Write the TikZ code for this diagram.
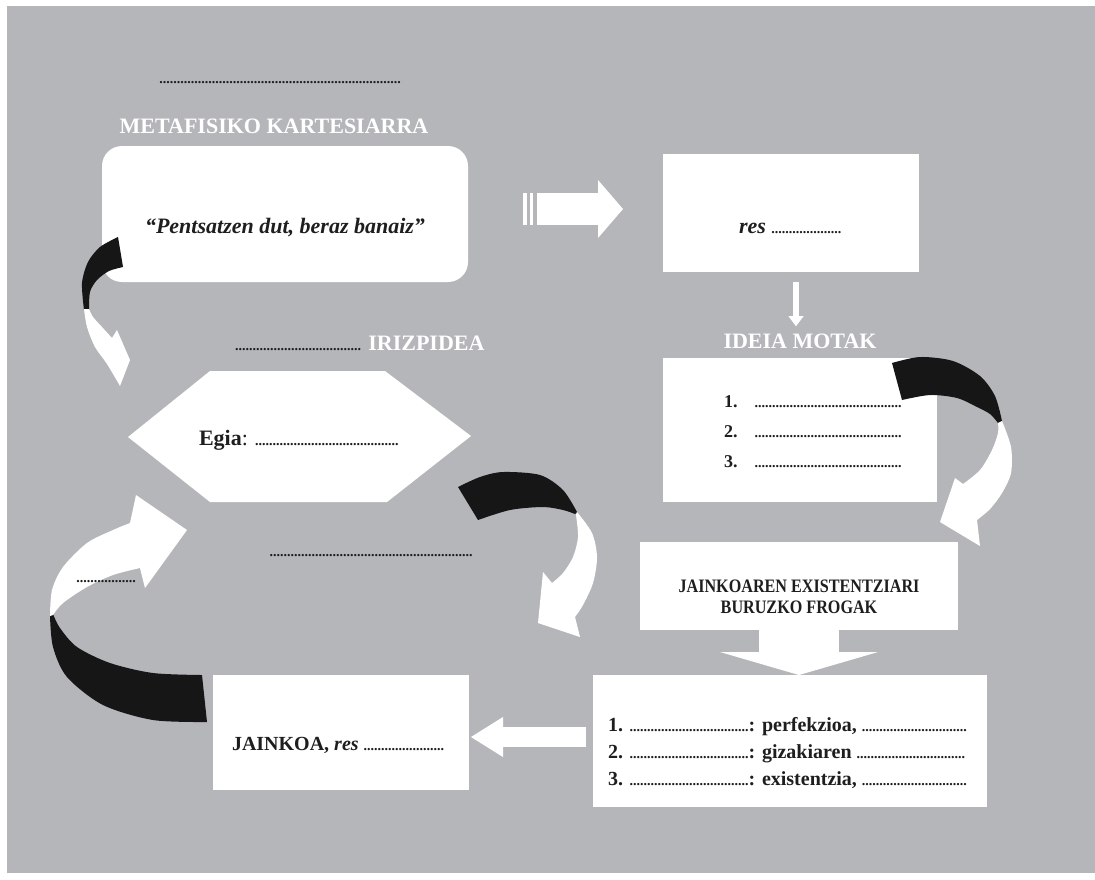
\documentclass[tikz,border=0pt]{standalone}
\usepackage{fontspec}
\setmainfont{Liberation Serif}
\newfontfamily\narrowfont[FakeStretch=0.85]{Liberation Serif}
\usepackage{tikz}
\usetikzlibrary{arrows.meta,calc,positioning}
\definecolor{panel}{RGB}{181,182,186}
\definecolor{ink}{RGB}{30,30,30}
\definecolor{ribbonink}{RGB}{22,22,22}
\newcommand{\dl}[1]{{\fontsize{7}{8}\selectfont\bfseries\upshape#1}}
\tikzset{
	scheme/.style={
		x=0.5pt, y=-0.5pt,
		every node/.style={inner sep=0pt, outer sep=0pt, text=ink}},
	card/.style={fill=white},
	tag/.style={font=\bfseries\fontsize{11}{13}\selectfont},
	caption/.style={tag, text=white},
	ribbon/.style={fill=white},
	ribbon back/.style={fill=ribbonink},
	fat/.style n args={3}{draw=white, line width=#1,
		-{Triangle[length=#2, width=#3, line width=0pt]}}
}

\begin{document}
\begin{tikzpicture}[scheme]
   \path[use as bounding box, fill=white] (0,0) rectangle (1095,879);
   \fill[panel] (7,6) rectangle (1095,873);
   \node[card, rounded corners=10pt, minimum width=183pt, minimum height=68pt] (cog) at (285,214) {};
   \node[card, minimum width=128pt, minimum height=59pt] (res) at (791,213) {};
   \node[card, minimum width=137pt, minimum height=72pt] (ideia) at (800,430) {};
   \node[card, minimum width=159pt, minimum height=44pt] (froga) at (799,586) {};
   \node[card, minimum width=197pt, minimum height=66pt] (proba) at (790,741) {};
   \node[card, minimum width=128pt, minimum height=57.5pt] (jainko) at (341,732.5) {};
   \fill[white] (128,437) -- (210,371) -- (385,371) -- (471,436) -- (387,502) -- (210,502) -- cycle;
   % texts
   \node[caption, above=6.3pt of cog, xshift=-5.5pt] (meta) {METAFISIKO KARTESIARRA};
   \node[above=17.3pt of meta, xshift=3pt] (metadots) {\dl{.....................................................................}};
   \node[font=\bfseries\itshape\fontsize{11}{13}\selectfont] (cogtxt) at ([yshift=-7pt]cog.center) {“Pentsatzen dut, beraz banaiz”};
   \node[tag, anchor=west] (restxt) at (739,228) {\textit{res} \dl{....................}};
   \node[caption, above=4.5pt of ideia] (motak) {IDEIA MOTAK};
   \node[anchor=west, align=left, font=\bfseries\fontsize{9}{15}\selectfont] (motalist) at (724,432)
      {1.\hspace{8.5pt}\dl{..........................................}\\
       2.\hspace{8.5pt}\dl{..........................................}\\
       3.\hspace{8.5pt}\dl{..........................................}};
   \node[tag, anchor=west] (irizpide) at (235,343) {\dl{....................................} \textcolor{white}{IRIZPIDEA}};
   \node[tag, anchor=west] (egia) at (199,440) {Egia\mdseries: \dl{.........................................}};
   \node (middots) at (371,556) {\dl{..........................................................}};
   \node[font=\narrowfont\bfseries\fontsize{9.5}{10.5}\selectfont, align=center] (frogatxt) at ([yshift=-5.5pt]froga.center)
      {JAINKOAREN EXISTENTZIARI\\BURUZKO FROGAK};
   \node[anchor=west, align=left, font=\bfseries\fontsize{10}{13.5}\selectfont] (probatxt) at (608,753)
      {1. \dl{..................................}: perfekzioa, \dl{..............................}\\
       2. \dl{..................................}: gizakiaren \dl{...............................}\\
       3. \dl{..................................}: existentzia, \dl{..............................}};
   \node[anchor=west, font=\bfseries\fontsize{10}{12}\selectfont] (jainkotxt) at (232,745)
      {JAINKOA, \textit{res} \dl{.......................}};
   % straight arrows
   \draw[fat={16pt}{12.5pt}{29pt}] ($(cog.east)+(69,-5)$) -- ($(res.west)+(-40,-4)$);
   \foreach \s in {56.75,63.25}
      \draw[white, line width=1.75pt] ($(cog.east)+(\s,-21)$) -- ($(cog.east)+(\s,11)$);
   \draw[fat={3pt}{5pt}{7.5pt}] ($(res.south)+(5,10)$) -- ($(res.south |- motak.north)+(5,-8)$);
   \draw[fat={40pt}{11.5pt}{79pt}] (froga.south) -- (froga.south |- proba.north);
   \draw[fat={10pt}{16pt}{20pt}] ($(proba.west)+(-7,-4)$) -- ($(jainko.east)+(2,4.5)$);
   % curved arrows
   \fill[ribbon back] plot[smooth] coordinates {(118,237) (100,247) (88,262) (82,283) (84,310)}
      -- plot[smooth] coordinates {(89,310) (90,292) (97,280) (109,271) (123,267)} -- cycle;
   \fill[ribbon] plot[smooth] coordinates {(84,309) (87,327) (95,347) (107,364) (120,386)}
      -- (130,360) -- (117,330) -- plot[smooth] coordinates {(112,338) (102,327) (93,317) (89,309)} -- cycle;
   \fill[ribbon back] plot[smooth] coordinates {(892,363) (920,357) (953,361) (980,376) (995,396) (1002,421)}
      -- plot[smooth] coordinates {(998,423) (990,414) (977,407) (957,398) (930,395) (902,400)} -- cycle;
   \fill[ribbon] plot[smooth] coordinates {(1002,421) (1011,447) (1011,473) (1002,493) (990,509) (977,520)}
      -- (980,546) -- (940,522) -- (955,478) -- plot[smooth] coordinates {(963,484) (980,470) (992,450) (998,433) (998,423)} -- cycle;
   \fill[ribbon back] plot[smooth] coordinates {(458,487) (480,477) (503,472) (540,475) (563,490) (577,512)}
      -- plot[smooth] coordinates {(575,514) (563,510) (543,507) (510,510) (478,520)} -- cycle;
   \fill[ribbon] plot[smooth] coordinates {(577,512) (592,533) (597,557) (593,583) (583,605) (575,617)}
      -- (580,637) -- (538,623) -- (543,572) -- plot[smooth] coordinates {(552,583) (563,573) (573,557) (578,537) (576,515)} -- cycle;
   \fill[ribbon back] plot[smooth] coordinates {(207,722) (153,720) (103,705) (67,677) (53,647) (50,616)}
      -- plot[smooth] coordinates {(53,614) (60,628) (77,647) (110,663) (153,673) (202,675)} -- cycle;
   \fill[ribbon] plot[smooth] coordinates {(50,616) (52,590) (63,567) (87,543) (113,530) (130,523)}
      -- (136,495) -- (187,530) -- (145,588) -- plot[smooth] coordinates {(140,568) (113,575) (87,587) (63,603) (53,615)} -- cycle;
   \node (leftdots) at (106,582) {\dl{.................}};
\end{tikzpicture}
\end{document}
